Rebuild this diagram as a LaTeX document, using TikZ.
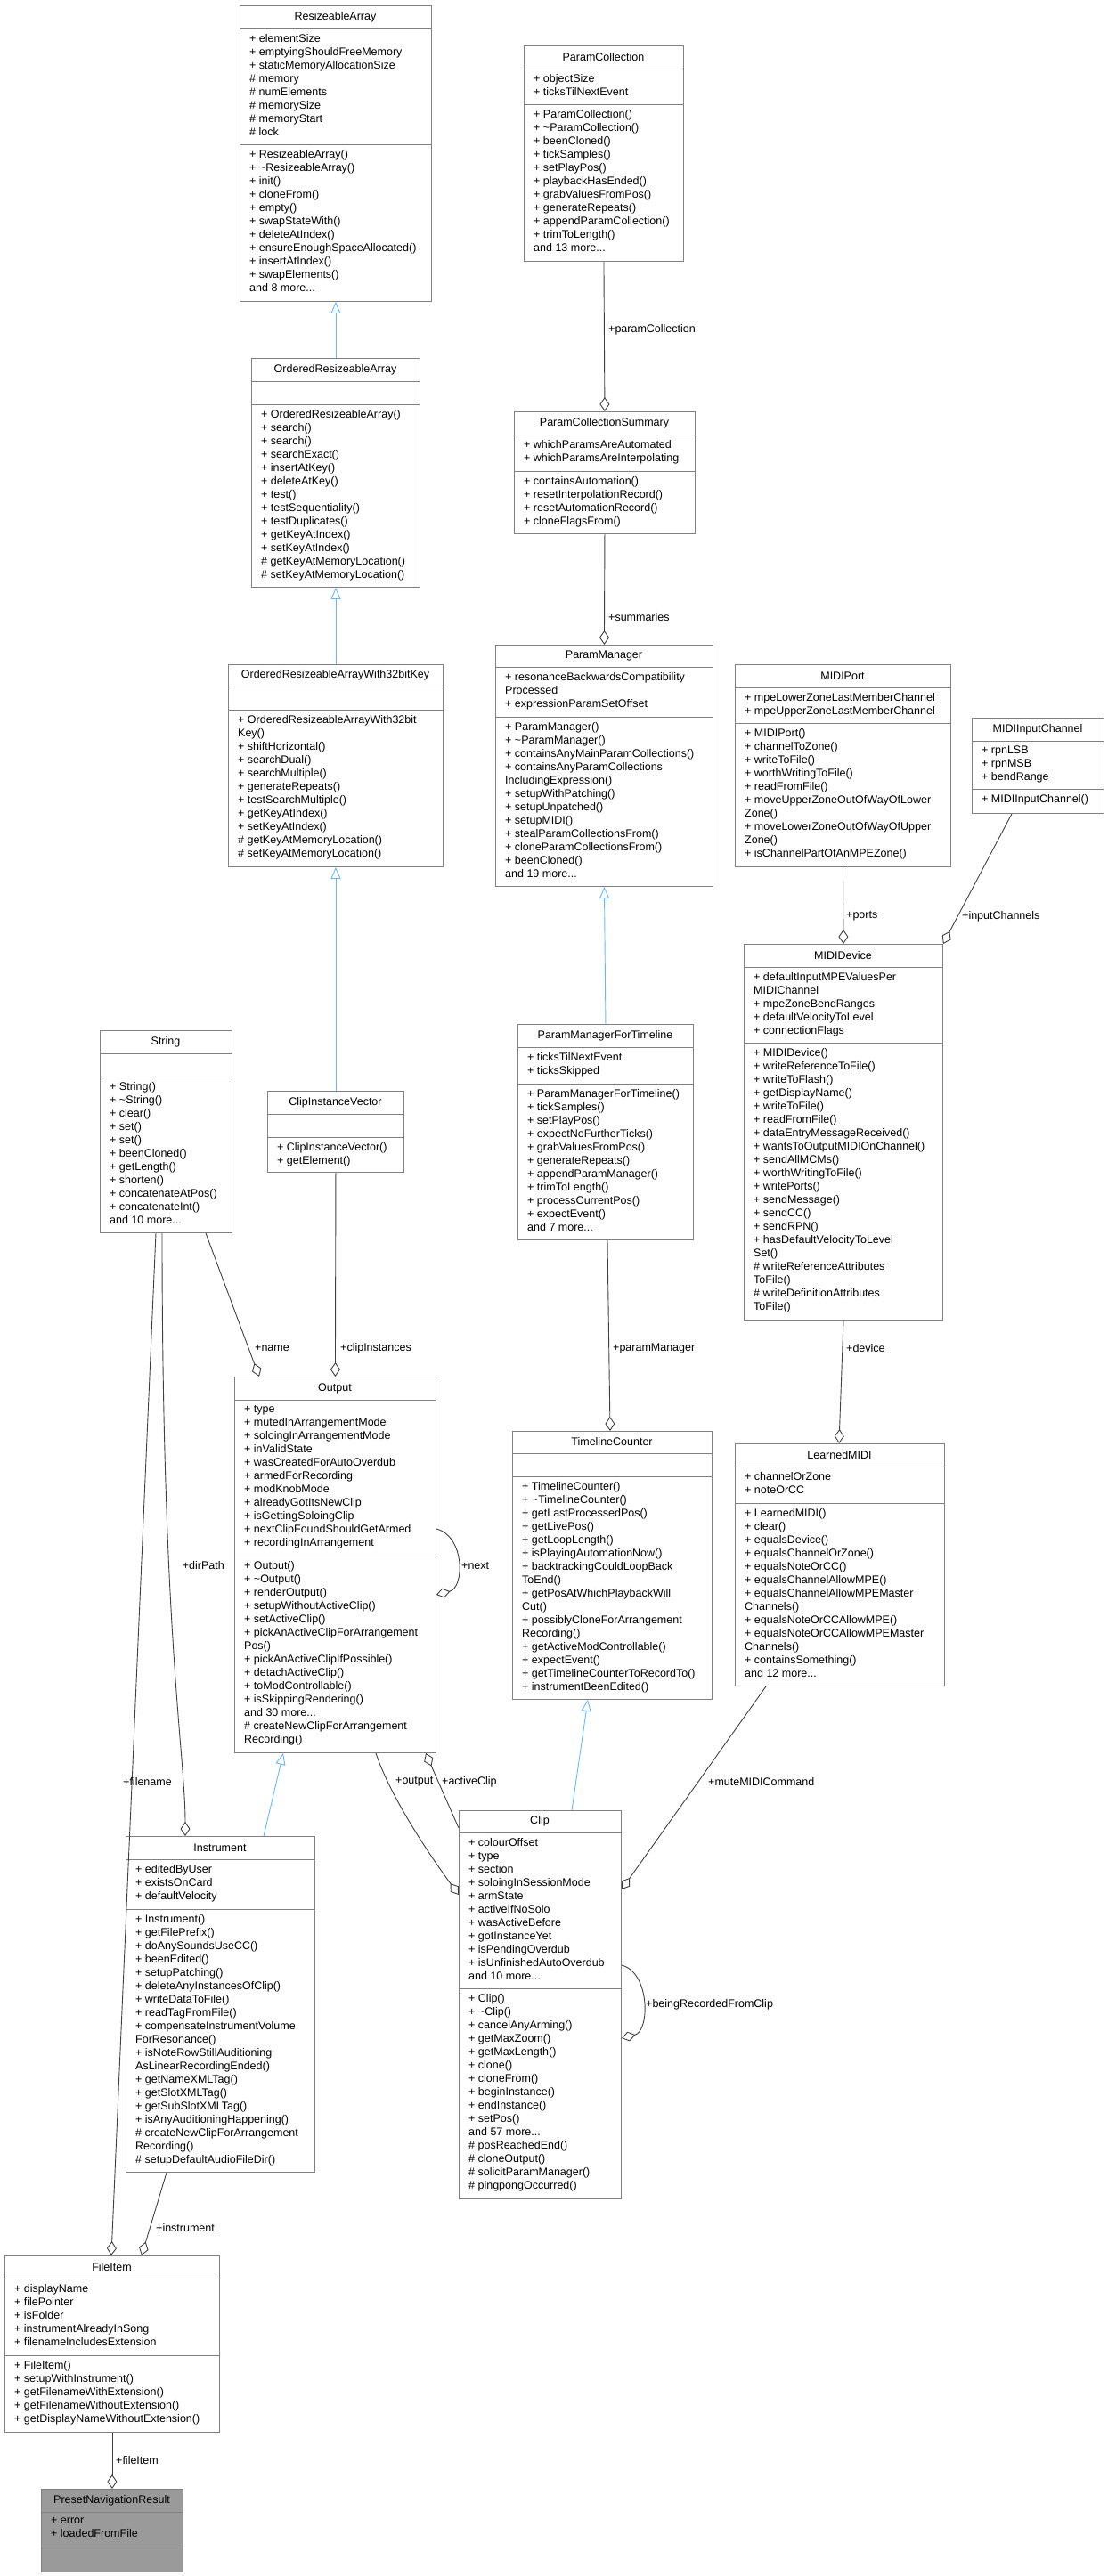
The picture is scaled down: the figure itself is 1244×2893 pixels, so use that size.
\documentclass[tikz,border=0pt]{standalone}
\usepackage{fontspec}
\setmainfont{Liberation Sans}
\usetikzlibrary{arrows.meta,calc}
\definecolor{boxgray}{HTML}{808080}
\definecolor{edgegray}{HTML}{404040}
\definecolor{inhblue}{HTML}{63B8FF}
\definecolor{pnfill}{HTML}{9A9A9A}
\newcommand\tld{\textasciitilde}
\newcommand\umlbox[9]{%
 \node[box, minimum width={#4-#2}, minimum height={#5-#3}, anchor=north west] (#1) at (#2,#3) {};
 \draw[boxgray] (#2,#6) -- (#4,#6) (#2,#7) -- (#4,#7);
 \node[txt] at ({(#2+#4)/2},{(#3+#6)/2}) {#1};
 \node[txt,anchor=north west,align=left] at (#2+11,#6+6) {#8};
 \node[txt,anchor=north west,align=left] at (#2+11,#7+6) {#9};
}
\tikzset{
 box/.style={draw=boxgray, inner sep=0pt, line width=0.9pt},
 txt/.style={inner sep=0pt, font=\fontsize{12.5}{15}\selectfont},
 lbl/.style={inner sep=0pt, font=\fontsize{12.5}{15}\selectfont, anchor=west},
 inh/.style={draw=inhblue, line width=0.9pt, -{Triangle[open,length=13pt,width=11pt,fill=white]}},
 agg/.style={draw=edgegray, line width=0.9pt, -{Diamond[open,length=16pt,width=11pt,fill=white]}},
}
\begin{document}
\begin{tikzpicture}[x=1pt,y=-1pt]
\useasboundingbox (0,0) rectangle (1244,2893);
\fill[pnfill] (46,2795) rectangle (205,2888);

\umlbox{ResizeableArray}{269}{6}{484}{338}{32}{162}
{+ elementSize\\+ emptyingShouldFreeMemory\\+ staticMemoryAllocationSize\\\# memory\\\# numElements\\\# memorySize\\\# memoryStart\\\# lock}
{+ ResizeableArray()\\+ \tld ResizeableArray()\\+ init()\\+ cloneFrom()\\+ empty()\\+ swapStateWith()\\+ deleteAtIndex()\\+ ensureEnoughSpaceAllocated()\\+ insertAtIndex()\\+ swapElements()\\and 8 more...}

\umlbox{ParamCollection}{588}{51}{767}{293}{77}{117}
{+ objectSize\\+ ticksTilNextEvent}
{+ ParamCollection()\\+ \tld ParamCollection()\\+ beenCloned()\\+ tickSamples()\\+ setPlayPos()\\+ playbackHasEnded()\\+ grabValuesFromPos()\\+ generateRepeats()\\+ appendParamCollection()\\+ trimToLength()\\and 13 more...}

\umlbox{OrderedResizeableArray}{282}{402}{471}{659}{428}{454}
{}
{+ OrderedResizeableArray()\\+ search()\\+ search()\\+ searchExact()\\+ insertAtKey()\\+ deleteAtKey()\\+ test()\\+ testSequentiality()\\+ testDuplicates()\\+ getKeyAtIndex()\\+ setKeyAtIndex()\\\# getKeyAtMemoryLocation()\\\# setKeyAtMemoryLocation()}

\umlbox{ParamCollectionSummary}{577}{462}{780}{599}{488}{529}
{+ whichParamsAreAutomated\\+ whichParamsAreInterpolating}
{+ containsAutomation()\\+ resetInterpolationRecord()\\+ resetAutomationRecord()\\+ cloneFlagsFrom()}

\umlbox{OrderedResizeableArrayWith32bitKey}{256}{746}{497}{973}{771}{797}
{}
{+ OrderedResizeableArrayWith32bit\\Key()\\+ shiftHorizontal()\\+ searchDual()\\+ searchMultiple()\\+ generateRepeats()\\+ testSearchMultiple()\\+ getKeyAtIndex()\\+ setKeyAtIndex()\\\# getKeyAtMemoryLocation()\\\# setKeyAtMemoryLocation()}

\umlbox{ParamManager}{556}{724}{800}{995}{749}{805}
{+ resonanceBackwardsCompatibility\\Processed\\+ expressionParamSetOffset}
{+ ParamManager()\\+ \tld ParamManager()\\+ containsAnyMainParamCollections()\\+ containsAnyParamCollections\\IncludingExpression()\\+ setupWithPatching()\\+ setupUnpatched()\\+ setupMIDI()\\+ stealParamCollectionsFrom()\\+ cloneParamCollectionsFrom()\\+ beenCloned()\\and 19 more...}

\umlbox{MIDIPort}{825}{746}{1067}{973}{772}{812}
{+ mpeLowerZoneLastMemberChannel\\+ mpeUpperZoneLastMemberChannel}
{+ MIDIPort()\\+ channelToZone()\\+ writeToFile()\\+ worthWritingToFile()\\+ readFromFile()\\+ moveUpperZoneOutOfWayOfLower\\Zone()\\+ moveLowerZoneOutOfWayOfUpper\\Zone()\\+ isChannelPartOfAnMPEZone()}

\umlbox{MIDIInputChannel}{1091}{806}{1239}{913}{832}{886}
{+ rpnLSB\\+ rpnMSB\\+ bendRange}
{+ MIDIInputChannel()}

\umlbox{String}{112}{1157}{260}{1384}{1183}{1209}
{}
{+ String()\\+ \tld String()\\+ clear()\\+ set()\\+ set()\\+ beenCloned()\\+ getLength()\\+ shorten()\\+ concatenateAtPos()\\+ concatenateInt()\\and 10 more...}

\umlbox{ClipInstanceVector}{300}{1225}{453}{1316}{1251}{1277}
{}
{+ ClipInstanceVector()\\+ getElement()}

\umlbox{ParamManagerForTimeline}{581}{1150}{778}{1392}{1176}{1217}
{+ ticksTilNextEvent\\+ ticksSkipped}
{+ ParamManagerForTimeline()\\+ tickSamples()\\+ setPlayPos()\\+ expectNoFurtherTicks()\\+ grabValuesFromPos()\\+ generateRepeats()\\+ appendParamManager()\\+ trimToLength()\\+ processCurrentPos()\\+ expectEvent()\\and 7 more...}

\umlbox{MIDIDevice}{835}{1060}{1058}{1482}{1086}{1171}
{+ defaultInputMPEValuesPer\\MIDIChannel\\+ mpeZoneBendRanges\\+ defaultVelocityToLevel\\+ connectionFlags}
{+ MIDIDevice()\\+ writeReferenceToFile()\\+ writeToFlash()\\+ getDisplayName()\\+ writeToFile()\\+ readFromFile()\\+ dataEntryMessageReceived()\\+ wantsToOutputMIDIOnChannel()\\+ sendAllMCMs()\\+ worthWritingToFile()\\+ writePorts()\\+ sendMessage()\\+ sendCC()\\+ sendRPN()\\+ hasDefaultVelocityToLevel\\Set()\\\# writeReferenceAttributes\\ToFile()\\\# writeDefinitionAttributes\\ToFile()}

\umlbox{Output}{263}{1546}{489}{1968}{1572}{1747}
{+ type\\+ mutedInArrangementMode\\+ soloingInArrangementMode\\+ inValidState\\+ wasCreatedForAutoOverdub\\+ armedForRecording\\+ modKnobMode\\+ alreadyGotItsNewClip\\+ isGettingSoloingClip\\+ nextClipFoundShouldGetArmed\\+ recordingInArrangement}
{+ Output()\\+ \tld Output()\\+ renderOutput()\\+ setupWithoutActiveClip()\\+ setActiveClip()\\+ pickAnActiveClipForArrangement\\Pos()\\+ pickAnActiveClipIfPossible()\\+ detachActiveClip()\\+ toModControllable()\\+ isSkippingRendering()\\and 30 more...\\\# createNewClipForArrangement\\Recording()}

\umlbox{TimelineCounter}{575}{1607}{799}{1908}{1632}{1658}
{}
{+ TimelineCounter()\\+ \tld TimelineCounter()\\+ getLastProcessedPos()\\+ getLivePos()\\+ getLoopLength()\\+ isPlayingAutomationNow()\\+ backtrackingCouldLoopBack\\ToEnd()\\+ getPosAtWhichPlaybackWill\\Cut()\\+ possiblyCloneForArrangement\\Recording()\\+ getActiveModControllable()\\+ expectEvent()\\+ getTimelineCounterToRecordTo()\\+ instrumentBeenEdited()}

\umlbox{LearnedMIDI}{825}{1621}{1060}{1893}{1647}{1688}
{+ channelOrZone\\+ noteOrCC}
{+ LearnedMIDI()\\+ clear()\\+ equalsDevice()\\+ equalsChannelOrZone()\\+ equalsNoteOrCC()\\+ equalsChannelAllowMPE()\\+ equalsChannelAllowMPEMaster\\Channels()\\+ equalsNoteOrCCAllowMPE()\\+ equalsNoteOrCCAllowMPEMaster\\Channels()\\+ containsSomething()\\and 12 more...}

\umlbox{Instrument}{141}{2062}{353}{2439}{2088}{2144}
{+ editedByUser\\+ existsOnCard\\+ defaultVelocity}
{+ Instrument()\\+ getFilePrefix()\\+ doAnySoundsUseCC()\\+ beenEdited()\\+ setupPatching()\\+ deleteAnyInstancesOfClip()\\+ writeDataToFile()\\+ readTagFromFile()\\+ compensateInstrumentVolume\\ForResonance()\\+ isNoteRowStillAuditioning\\AsLinearRecordingEnded()\\+ getNameXMLTag()\\+ getSlotXMLTag()\\+ getSubSlotXMLTag()\\+ isAnyAuditioningHappening()\\\# createNewClipForArrangement\\Recording()\\\# setupDefaultAudioFileDir()}

\umlbox{Clip}{515}{2033}{697}{2469}{2058}{2233}
{+ colourOffset\\+ type\\+ section\\+ soloingInSessionMode\\+ armState\\+ activeIfNoSolo\\+ wasActiveBefore\\+ gotInstanceYet\\+ isPendingOverdub\\+ isUnfinishedAutoOverdub\\and 10 more...}
{+ Clip()\\+ \tld Clip()\\+ cancelAnyArming()\\+ getMaxZoom()\\+ getMaxLength()\\+ clone()\\+ cloneFrom()\\+ beginInstance()\\+ endInstance()\\+ setPos()\\and 57 more...\\\# posReachedEnd()\\\# cloneOutput()\\\# solicitParamManager()\\\# pingpongOccurred()}

\umlbox{FileItem}{5}{2533}{246}{2731}{2559}{2645}
{+ displayName\\+ filePointer\\+ isFolder\\+ instrumentAlreadyInSong\\+ filenameIncludesExtension}
{+ FileItem()\\+ setupWithInstrument()\\+ getFilenameWithExtension()\\+ getFilenameWithoutExtension()\\+ getDisplayNameWithoutExtension()}

\umlbox{PresetNavigationResult}{46}{2795}{205}{2888}{2821}{2861}
{+ error\\+ loadedFromFile}
{}

% inheritance
\draw[inh] (OrderedResizeableArray.north) -- (ResizeableArray.south);
\draw[inh] (OrderedResizeableArrayWith32bitKey.north) -- (OrderedResizeableArray.south);
\draw[inh] (ClipInstanceVector.north) -- (OrderedResizeableArrayWith32bitKey.south);
\draw[inh] (ParamManagerForTimeline.north) -- (ParamManager.south);
\draw[inh] ($(Instrument.north west)+(155,0)$) -- ($(Output.south west)+(55,0)$);
\draw[inh] ($(Clip.north west)+(127,0)$) -- ($(TimelineCounter.south west)+(85,0)$);

% aggregation
\draw[agg] (ParamCollection.south) -- (ParamCollectionSummary.north);
\draw[agg] (ParamCollectionSummary.south) -- (ParamManager.north);
\draw[agg] (MIDIPort.south) -- (MIDIDevice.north);
\draw[agg] ($(MIDIInputChannel.south west)+(45,0)$) -- (MIDIDevice.north east);
\draw[agg] ($(String.south west)+(119,0)$) -- ($(Output.north west)+(28,0)$);
\draw[agg] (ClipInstanceVector.south) -- (Output.north);
\draw[agg] ($(ParamManagerForTimeline.south west)+(101,0)$) -- ($(TimelineCounter.north west)+(110,0)$);
\draw[agg] ($(MIDIDevice.south west)+(112,0)$) -- ($(LearnedMIDI.north west)+(117,0)$);
\draw[agg] ($(Output.north east)+(0,171)$) .. controls +(32,8) and +(32,-8) .. ($(Output.north east)+(0,245)$);
\draw[agg] ($(String.south west)+(70,0)$) .. controls +(0,450) and +(0,-90) .. ($(Instrument.north west)+(67,0)$);
\draw[agg] ($(String.south west)+(63,0)$) -- ($(FileItem.north west)+(120,0)$);
\draw[agg] ($(Instrument.south west)+(46,0)$) -- ($(FileItem.north west)+(154,0)$);
\draw[agg] (FileItem.south) -- (PresetNavigationResult.north);
\draw[agg] ($(Output.south west)+(159,0)$) .. controls +(15,45) and +(-40,-55) .. ($(Clip.north west)+(0,95)$);
\draw[agg] ($(Clip.north west)+(0,20)$) -- ($(Output.south west)+(215,0)$);
\draw[agg] ($(LearnedMIDI.south west)+(35,0)$) -- ($(Clip.north east)+(0,89)$);
\draw[agg] ($(Clip.north east)+(0,174)$) .. controls +(32,8) and +(32,-8) .. ($(Clip.north east)+(0,256)$);

% labels
\node[lbl] (lpc) at (683,370) {+paramCollection};
\node[lbl] (lsum) at (683,693) {+summaries};
\node[lbl] (lports) at (950,1029) {+ports};
\node[lbl] (lic) at (1080,1029) {+inputChannels};
\node[lbl] (lname) at (286,1514) {+name};
\node[lbl] (lci) at (382,1514) {+clipInstances};
\node[lbl] (lpm) at (688,1514) {+paramManager};
\node[lbl] (ldev) at (950,1514) {+device};
\node[lbl] (lnext) at (518,1758) {+next};
\node[lbl,anchor=east] (ldir) at (252,1758) {+dirPath};
\node[lbl] (lfn) at (138,2001) {+filename};
\node[lbl] (lout) at (444,2001) {+output};
\node[lbl] (lac) at (496,2001) {+activeClip};
\node[lbl] (lmute) at (795,2001) {+muteMIDICommand};
\node[lbl] (lbrc) at (725,2251) {+beingRecordedFromClip};
\node[lbl] (linst) at (175,2502) {+instrument};
\node[lbl] (lfi) at (130,2763) {+fileItem};
\end{tikzpicture}
\end{document}
